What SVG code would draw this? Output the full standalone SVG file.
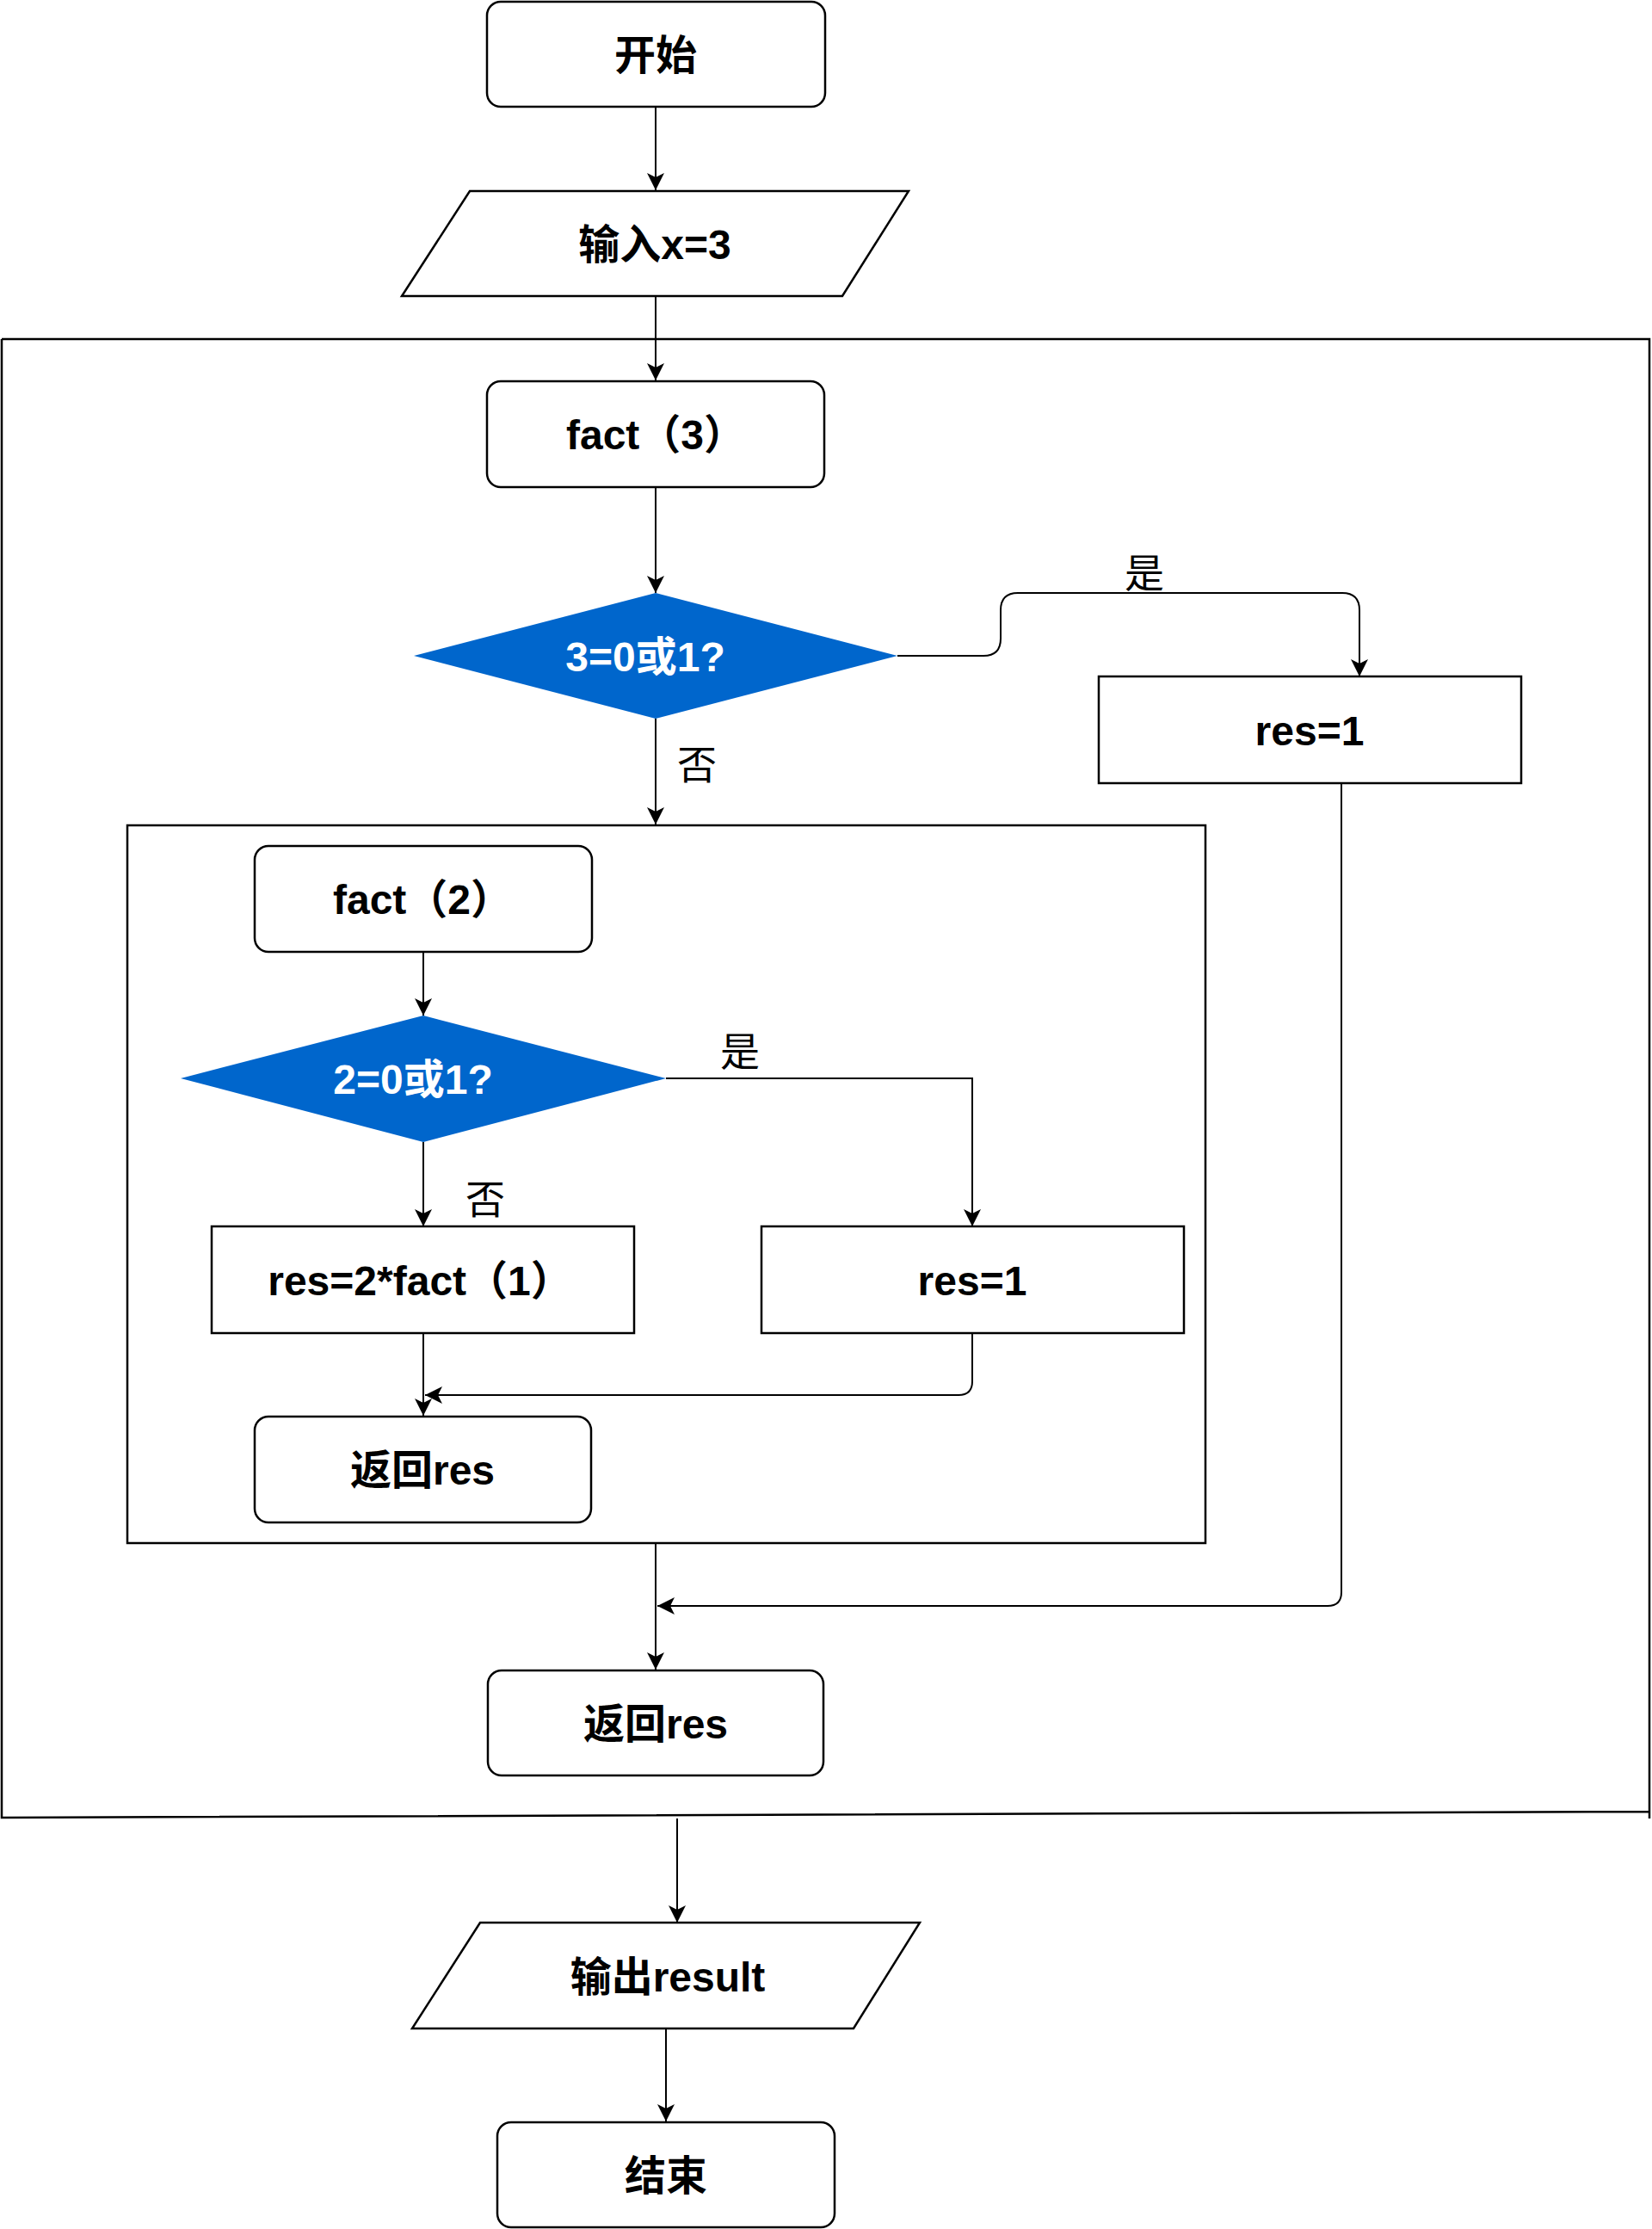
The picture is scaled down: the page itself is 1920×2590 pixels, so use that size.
<svg xmlns="http://www.w3.org/2000/svg" width="1920" height="2590" viewBox="0 0 1920 2590">
<defs>
<marker id="arr" markerUnits="userSpaceOnUse" markerWidth="24" markerHeight="24" refX="20" refY="10" orient="auto">
<path d="M0,0 L20,10 L0,20 L5,10 Z" fill="#000"/>
</marker>
<style>
.box{fill:#fff;stroke:#000;stroke-width:2.5}
.frame{fill:none;stroke:#000;stroke-width:2.5}
.dia{fill:#0066CC;stroke:none}
.lbl{font-family:"Liberation Sans","Noto Sans CJK SC",sans-serif;font-weight:bold;font-size:48px;text-anchor:middle;fill:#000}
.wlbl{font-family:"Liberation Sans","Noto Sans CJK SC",sans-serif;font-weight:bold;font-size:48px;text-anchor:middle;fill:#fff}
.edge{font-family:"Noto Sans CJK SC",sans-serif;font-size:46px;text-anchor:middle;fill:#000}
.ln{fill:none;stroke:#000;stroke-width:2}
.ar{fill:none;stroke:#000;stroke-width:2;marker-end:url(#arr)}
</style>
</defs>
<rect width="1920" height="2590" fill="#fff"/>

<g id="outer-frame">
<path class="frame" d="M2,394 H1917 V2113 M1917,2105 L2,2112 V394"/>
</g>
<g id="inner-frame">
<rect class="frame" x="148" y="959" width="1253" height="834"/>
</g>

<g id="connectors">
<path class="ar" d="M762,124 V221"/>
<path class="ar" d="M762,344 V442"/>
<path class="ar" d="M762,566 V689"/>
<path class="ar" d="M1043,762 H1143 Q1163,762 1163,742 V709 Q1163,689 1183,689 H1560 Q1580,689 1580,709 V786"/>
<path class="ar" d="M762,835 V958"/>
<path class="ar" d="M492,1106 V1180"/>
<path class="ar" d="M774,1253 H1130 V1425"/>
<path class="ar" d="M492,1327 V1425"/>
<path class="ar" d="M492,1549 V1645"/>
<path class="ar" d="M1130,1549 V1605 Q1130,1621 1114,1621 H494"/>
<path class="ar" d="M762,1793 V1940"/>
<path class="ar" d="M1559,910 V1850 Q1559,1866 1543,1866 H764"/>
<path class="ar" d="M787,2113 V2234"/>
<path class="ar" d="M774,2357 V2465"/>
<text class="edge" x="1330" y="682">是</text>
<text class="edge" x="810" y="905">否</text>
<text class="edge" x="860" y="1238">是</text>
<text class="edge" x="564" y="1410">否</text>
</g>

<g id="start">
<rect class="box" x="566" y="2" width="393" height="122" rx="16"/>
<text class="lbl" x="762" y="81">开始</text>
</g>
<g id="input">
<polygon class="box" points="546,222 1056,222 979,344 467,344"/>
<text class="lbl" x="761" y="301">输入x=3</text>
</g>
<g id="fact3">
<rect class="box" x="566" y="443" width="392" height="123" rx="16"/>
<text class="lbl" x="762" y="522">fact（3）</text>
</g>
<g id="cond3">
<polygon class="dia" points="762,689 1043,762 762,835 481,762"/>
<text class="wlbl" x="750" y="780">3=0或1?</text>
</g>
<g id="res1-outer">
<rect class="box" x="1277" y="786" width="491" height="124"/>
<text class="lbl" x="1522" y="866">res=1</text>
</g>
<g id="fact2">
<rect class="box" x="296" y="983" width="392" height="123" rx="16"/>
<text class="lbl" x="491" y="1062">fact（2）</text>
</g>
<g id="cond2">
<polygon class="dia" points="492,1180 774,1253 492,1327 210,1253"/>
<text class="wlbl" x="480" y="1271">2=0或1?</text>
</g>
<g id="res-mul">
<rect class="box" x="246" y="1425" width="491" height="124"/>
<text class="lbl" x="488" y="1505">res=2*fact（1）</text>
</g>
<g id="res1-inner">
<rect class="box" x="885" y="1425" width="491" height="124"/>
<text class="lbl" x="1130" y="1505">res=1</text>
</g>
<g id="return-inner">
<rect class="box" x="296" y="1646" width="391" height="123" rx="16"/>
<text class="lbl" x="491" y="1725">返回res</text>
</g>
<g id="return-outer">
<rect class="box" x="567" y="1941" width="390" height="122" rx="16"/>
<text class="lbl" x="762" y="2020">返回res</text>
</g>
<g id="output">
<polygon class="box" points="558,2234 1069,2234 992,2357 479,2357"/>
<text class="lbl" x="776" y="2314">输出result</text>
</g>
<g id="end">
<rect class="box" x="578" y="2466" width="392" height="122" rx="16"/>
<text class="lbl" x="774" y="2545">结束</text>
</g>
</svg>
